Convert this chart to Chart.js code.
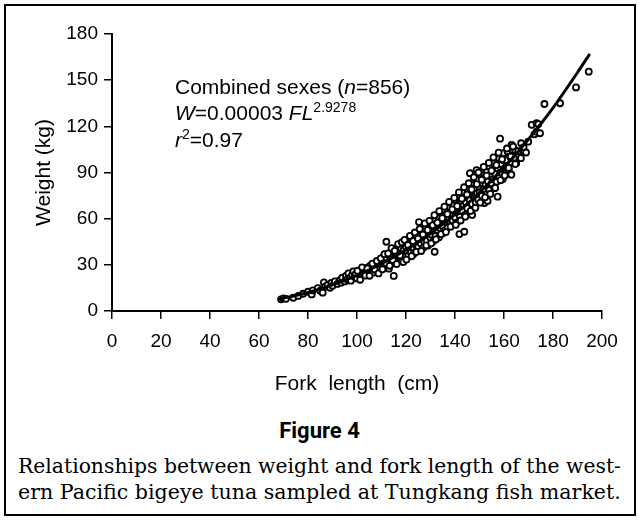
<!DOCTYPE html>
<html>
<head>
<meta charset="utf-8">
<script src="https://cdn.jsdelivr.net/npm/chart.js@4"></script>
<style>
  html, body { margin: 0; padding: 0; background: #fff; }
  body { width: 639px; height: 521px; position: relative; overflow: hidden; }
  #frame { position: absolute; left: 4px; top: 4px; width: 628px; height: 508px; border: 2px solid #000; }
  #plot { position: absolute; left: 0; top: 0; }
  .note { position: absolute; left: 175px; font: 21px "Liberation Sans", Arial, sans-serif; line-height: 24px; color: #000; white-space: nowrap; }
  .note sup { font-size: 14px; vertical-align: 8px; line-height: 0; }
  #fig { position: absolute; left: 0; width: 639px; top: 418px; text-align: center; font: bold 22px "Liberation Sans Narrow", "Roboto", sans-serif; }
  .cap { position: absolute; left: 18px; font-family: "DejaVu Serif", serif; font-size: 19px; white-space: nowrap; color: #000; }
</style>
</head>
<body>
<div id="frame"></div>
<canvas id="plot" width="639" height="400"></canvas>
<div class="note" style="top:75px">Combined sexes (<i>n</i>=856)</div>
<div class="note" style="top:101px"><i>W</i>=0.00003 <i>FL</i><sup>2.9278</sup></div>
<div class="note" style="top:128px"><i>r</i><sup>2</sup>=0.97</div>
<div id="fig">Figure 4</div>
<div class="cap" id="cap1" style="top:454px">Relationships between weight and fork length of the west-</div>
<div class="cap" id="cap2" style="top:480px">ern Pacific bigeye tuna sampled at Tungkang fish market.</div>

<script>
// Amostras: [comprimento furcal (cm), peso (kg)]
const samplesSmall = [
  [69,7.6],[70,8.2],[71,7.9],[74,8.6],[76,9.8],[78,11.2],[80,12.5],[81.5,10.8],[82,13.4],[84,14.9],
  [85,13.2],[86,11.9],[86.5,18.6],[87,15.8],[88,16.9],[89,15.1],[89.5,18.2],[90,16.4],[91,19.3],[92,17.6],
  [93,20.1],[93.5,18.4],[94,21.6],[95,19.2],[95.5,22.8],[96,20.6],[96.5,24.5],[97,21.3],[97.5,19.7],[98,23.4],
  [98.5,25.8],[99,22.1],[99.5,24.1],[100,21.2],[100.5,26.3],[101,23.8],[101.5,22.0],[102,25.1],[102.5,27.9],[103,24.3],
  [103.5,26.6],[104,23.5],[104.5,28.4],[105,25.7],[105.5,29.6],[106,27.2],[106.5,24.9],[107,28.8],[107.5,30.9],[108,26.4]
];
const samplesMid = [
  [108.5,29.5],[109,31.8],[109.5,27.8],[110,30.2],[110,33.6],[110.5,28.6],[111,32.4],[111,35.5],[111.5,29.9],[112,34.1],
  [112,45.0],[112.5,31.2],[113,36.8],[113,27.5],[113.5,33.0],[114,38.9],[114,30.6],[114.5,35.7],[115,22.8],[115,33.9],
  [115.5,37.6],[115.5,31.4],[116,40.3],[116,35.0],[116.5,32.5],[117,38.2],[117,42.7],[117.5,34.6],[118,36.9],[118,40.9],
  [118.5,33.3],[119,39.5],[119,43.8],[119.5,37.0],[120,35.4],[120,41.6],[120,45.9],[120.5,38.8],[121,43.0],[121,36.2],
  [121.5,40.4],[122,47.3],[122,38.0],[122.5,44.2],[123,41.3],[123,36.9],[123.5,46.5],[124,43.1],[124,49.0],[124.5,40.0],
  [125,45.2],[125,41.7],[125.3,57.8],[125.5,48.6],[126,43.9],[126,52.0],[126.5,46.8],[127,40.9],[127,50.2],[127.5,44.8],
  [128,48.1],[128,53.9],[128.5,45.6],[129,51.3],[129,42.5],[129.5,55.4],[130,47.5],[130,52.8],[130,57.2],[130.5,49.6],
  [131,54.6],[131,45.1],[131.7,38.5],[131.5,51.8],[132,58.9],[132,48.7],[132.5,55.9],[133,52.4],[133,61.5],[133.5,47.9],
  [134,57.0],[134,53.7],[134.5,63.2],[135,50.6],[135,59.4],[135,55.1],[135.5,66.0],[136,52.6],[136,61.7],[136.5,57.9],
  [137,54.3],[137,64.8],[137.5,60.2],[138,67.3],[138,56.5],[138.5,62.9],[139,58.8],[139,69.6],[139.5,65.0],[140,60.7]
];
const samplesLarge = [
  [140,66.4],[140,72.1],[140.5,57.2],[141,63.8],[141,69.0],[141.5,74.6],[141.8,50.0],[142,61.2],[142,67.1],[142.5,71.4],
  [143,64.9],[143,77.3],[143.5,68.7],[143.8,51.5],[144,62.5],[144,73.9],[144.5,70.3],[145,66.8],[145,79.2],[145.5,74.8],
  [146,63.6],[146,71.9],[146.1,89.5],[146.5,77.8],[147,62.4],[147,69.4],[147.5,82.0],[148,73.6],[148,79.9],[148.8,91.6],
  [148.5,70.6],[149,76.5],[149,85.6],[149.5,72.3],[150,80.7],[150,77.0],[150.5,88.4],[151,74.9],[151,83.3],[151.5,79.1],
  [152,86.5],[152,70.1],[152.5,81.8],[153,90.4],[153.3,71.5],[153.5,84.2],[154,78.6],[154,93.8],[154.5,87.6],[155,82.9],
  [155,91.1],[155.5,85.5],[156,79.8],[156,96.0],[156.5,88.9],[157,84.0],[157.4,74.3],[157.5,92.6],[158,87.5],[158,99.2],
  [158.4,112.0],[158.5,90.1],[159,95.4],[159.5,85.7],[159.7,102.5],[160,92.4],[160,97.8],[160.5,89.3],[161,98.0],[161,94.1],
  [161.5,103.7],[162,91.6],[162.5,100.3],[163,88.6],[163,96.6],[163.1,107.9],[163.5,104.5],[164,99.1],[164.5,104.6],[165,96.0],
  [166,101.8],[167,109.0],[167.5,104.2],[168,106.5],[169,103.0],[169.9,110.0],[171.3,121.0],[172.4,114.8],[173.3,116.5],
  [173.3,122.0],[174,121.5],[174.7,115.5],[176.5,134.5],[182.9,135.0],[189.4,145.3],[194.6,155.5]
];
// Pontos mais afastados da curva (bordas da nuvem)
const samplesEdge = [
  [100.2,26.1],[101.3,20.3],[102.1,28.4],[103.4,23.0],[104.2,27.6],[105.1,22.9],[106.3,30.8],[107.2,27.0],[108.1,32.5],[108.8,24.4],
  [109.7,34.2],[110.4,27.1],[111.2,36.9],[111.9,31.0],[112.7,37.4],[113.3,29.4],[114.1,40.8],[114.6,33.2],[115.4,39.1],[116.2,30.5],
  [116.8,43.5],[117.6,36.1],[118.3,44.6],[118.9,31.8],[119.4,46.2],[120.2,33.4],[120.8,42.9],[121.6,48.8],[122.3,35.6],[122.9,45.4],
  [123.6,51.0],[124.2,38.4],[124.9,47.1],[125.6,53.3],[126.2,39.0],[126.9,49.7],[127.7,56.9],[128.3,42.6],[128.8,52.6],[129.6,58.6],
  [130.3,44.0],[130.9,55.7],[131.6,62.3],[132.2,46.5],[132.8,57.4],[133.6,64.9],[134.3,49.9],[134.8,60.3],[135.7,67.8],[136.3,51.3],
  [136.9,63.0],[137.6,70.9],[138.2,54.8],[138.9,66.1],[139.7,73.5],[140.3,56.0],[140.9,68.2],[141.6,77.1],[142.3,58.8],[142.8,73.0],
  [143.7,80.4],[144.2,61.3],[144.9,75.7],[145.6,83.0],[146.4,65.0],[146.8,78.9],[147.7,86.9],[148.3,67.1],[148.9,82.4],[149.6,90.0],
  [150.3,70.4],[150.9,85.3],[151.7,93.6],[152.3,73.9],[152.9,88.0],[153.8,96.2],[154.4,76.1],[154.9,91.2],[155.7,99.8],[156.4,80.0],
  [156.9,94.8],[157.8,102.9],[158.6,85.0],[159.2,98.6],[160.3,88.0],[161.2,105.6],[161.9,93.0],[162.8,100.4],[163.7,106.9],[164.6,95.5],
  [165.8,103.9],[166.9,99.3]
];

// Curva ajustada
const curveFL = [68, 80, 90, 100, 110, 120, 130, 140, 150, 160, 170, 180, 190, 195];
const curveW  = [7.6, 12, 17, 23.2, 30.7, 39.8, 50.4, 62.8, 77, 93.2, 111.6, 132, 155, 167];

// Escalas
const xRange = [0, 200], xStep = 20;
const yRange = [0, 180], yStep = 30;

const toPts = arr => arr.map(([x, y]) => ({ x, y }));
const amostras = toPts(samplesSmall.concat(samplesMid, samplesLarge, samplesEdge));
const curva = curveFL.map((x, i) => ({ x, y: curveW[i] }));

const fonteTick = { family: '"Liberation Sans", Arial, sans-serif', size: 19 };
const fonteTitulo = { family: '"Liberation Sans", Arial, sans-serif', size: 21 };

new Chart(document.getElementById('plot'), {
  type: 'scatter',
  data: {
    datasets: [
      {
        type: 'line',
        data: curva,
        borderColor: '#000',
        borderWidth: 3,
        pointRadius: 0,
        fill: false,
        cubicInterpolationMode: 'monotone',
        order: 0
      },
      {
        data: amostras,
        pointRadius: 3,
        pointBorderWidth: 1.8,
        borderColor: '#000',
        backgroundColor: '#fff',
        order: 1
      }
    ]
  },
  options: {
    responsive: false,
    animation: false,
    devicePixelRatio: 1,
    layout: { padding: { top: 34, right: 37, left: 0, bottom: 0 } },
    plugins: { legend: { display: false }, tooltip: { enabled: false } },
    scales: {
      x: {
        type: 'linear',
        min: xRange[0], max: xRange[1],
        ticks: { stepSize: xStep, color: '#000', font: fonteTick, padding: 11, maxRotation: 0 },
        grid: { drawOnChartArea: false, tickLength: 8, color: '#000', lineWidth: 1.5 },
        border: { color: '#000', width: 2 },
        title: { display: true, text: 'Fork  length  (cm)', color: '#000', font: fonteTitulo, padding: { top: 0, bottom: 3 } },
        afterFit: s => { s.height = 89; }
      },
      y: {
        min: yRange[0], max: yRange[1],
        ticks: { stepSize: yStep, color: '#000', font: fonteTick, padding: 6 },
        grid: { drawOnChartArea: false, tickLength: 8, color: '#000', lineWidth: 1.5 },
        border: { color: '#000', width: 2 },
        title: { display: true, text: 'Weight (kg)', color: '#000', font: fonteTitulo, padding: { top: 32, bottom: 0 } },
        afterFit: s => { s.width = 112; }
      }
    }
  }
});

// Ajusta a legenda da figura à largura original
['cap1', 'cap2'].forEach(id => {
  const el = document.getElementById(id);
  const alvo = 603;
  el.style.fontSize = (19 * alvo / el.getBoundingClientRect().width).toFixed(2) + 'px';
});
</script>
</body>
</html>
